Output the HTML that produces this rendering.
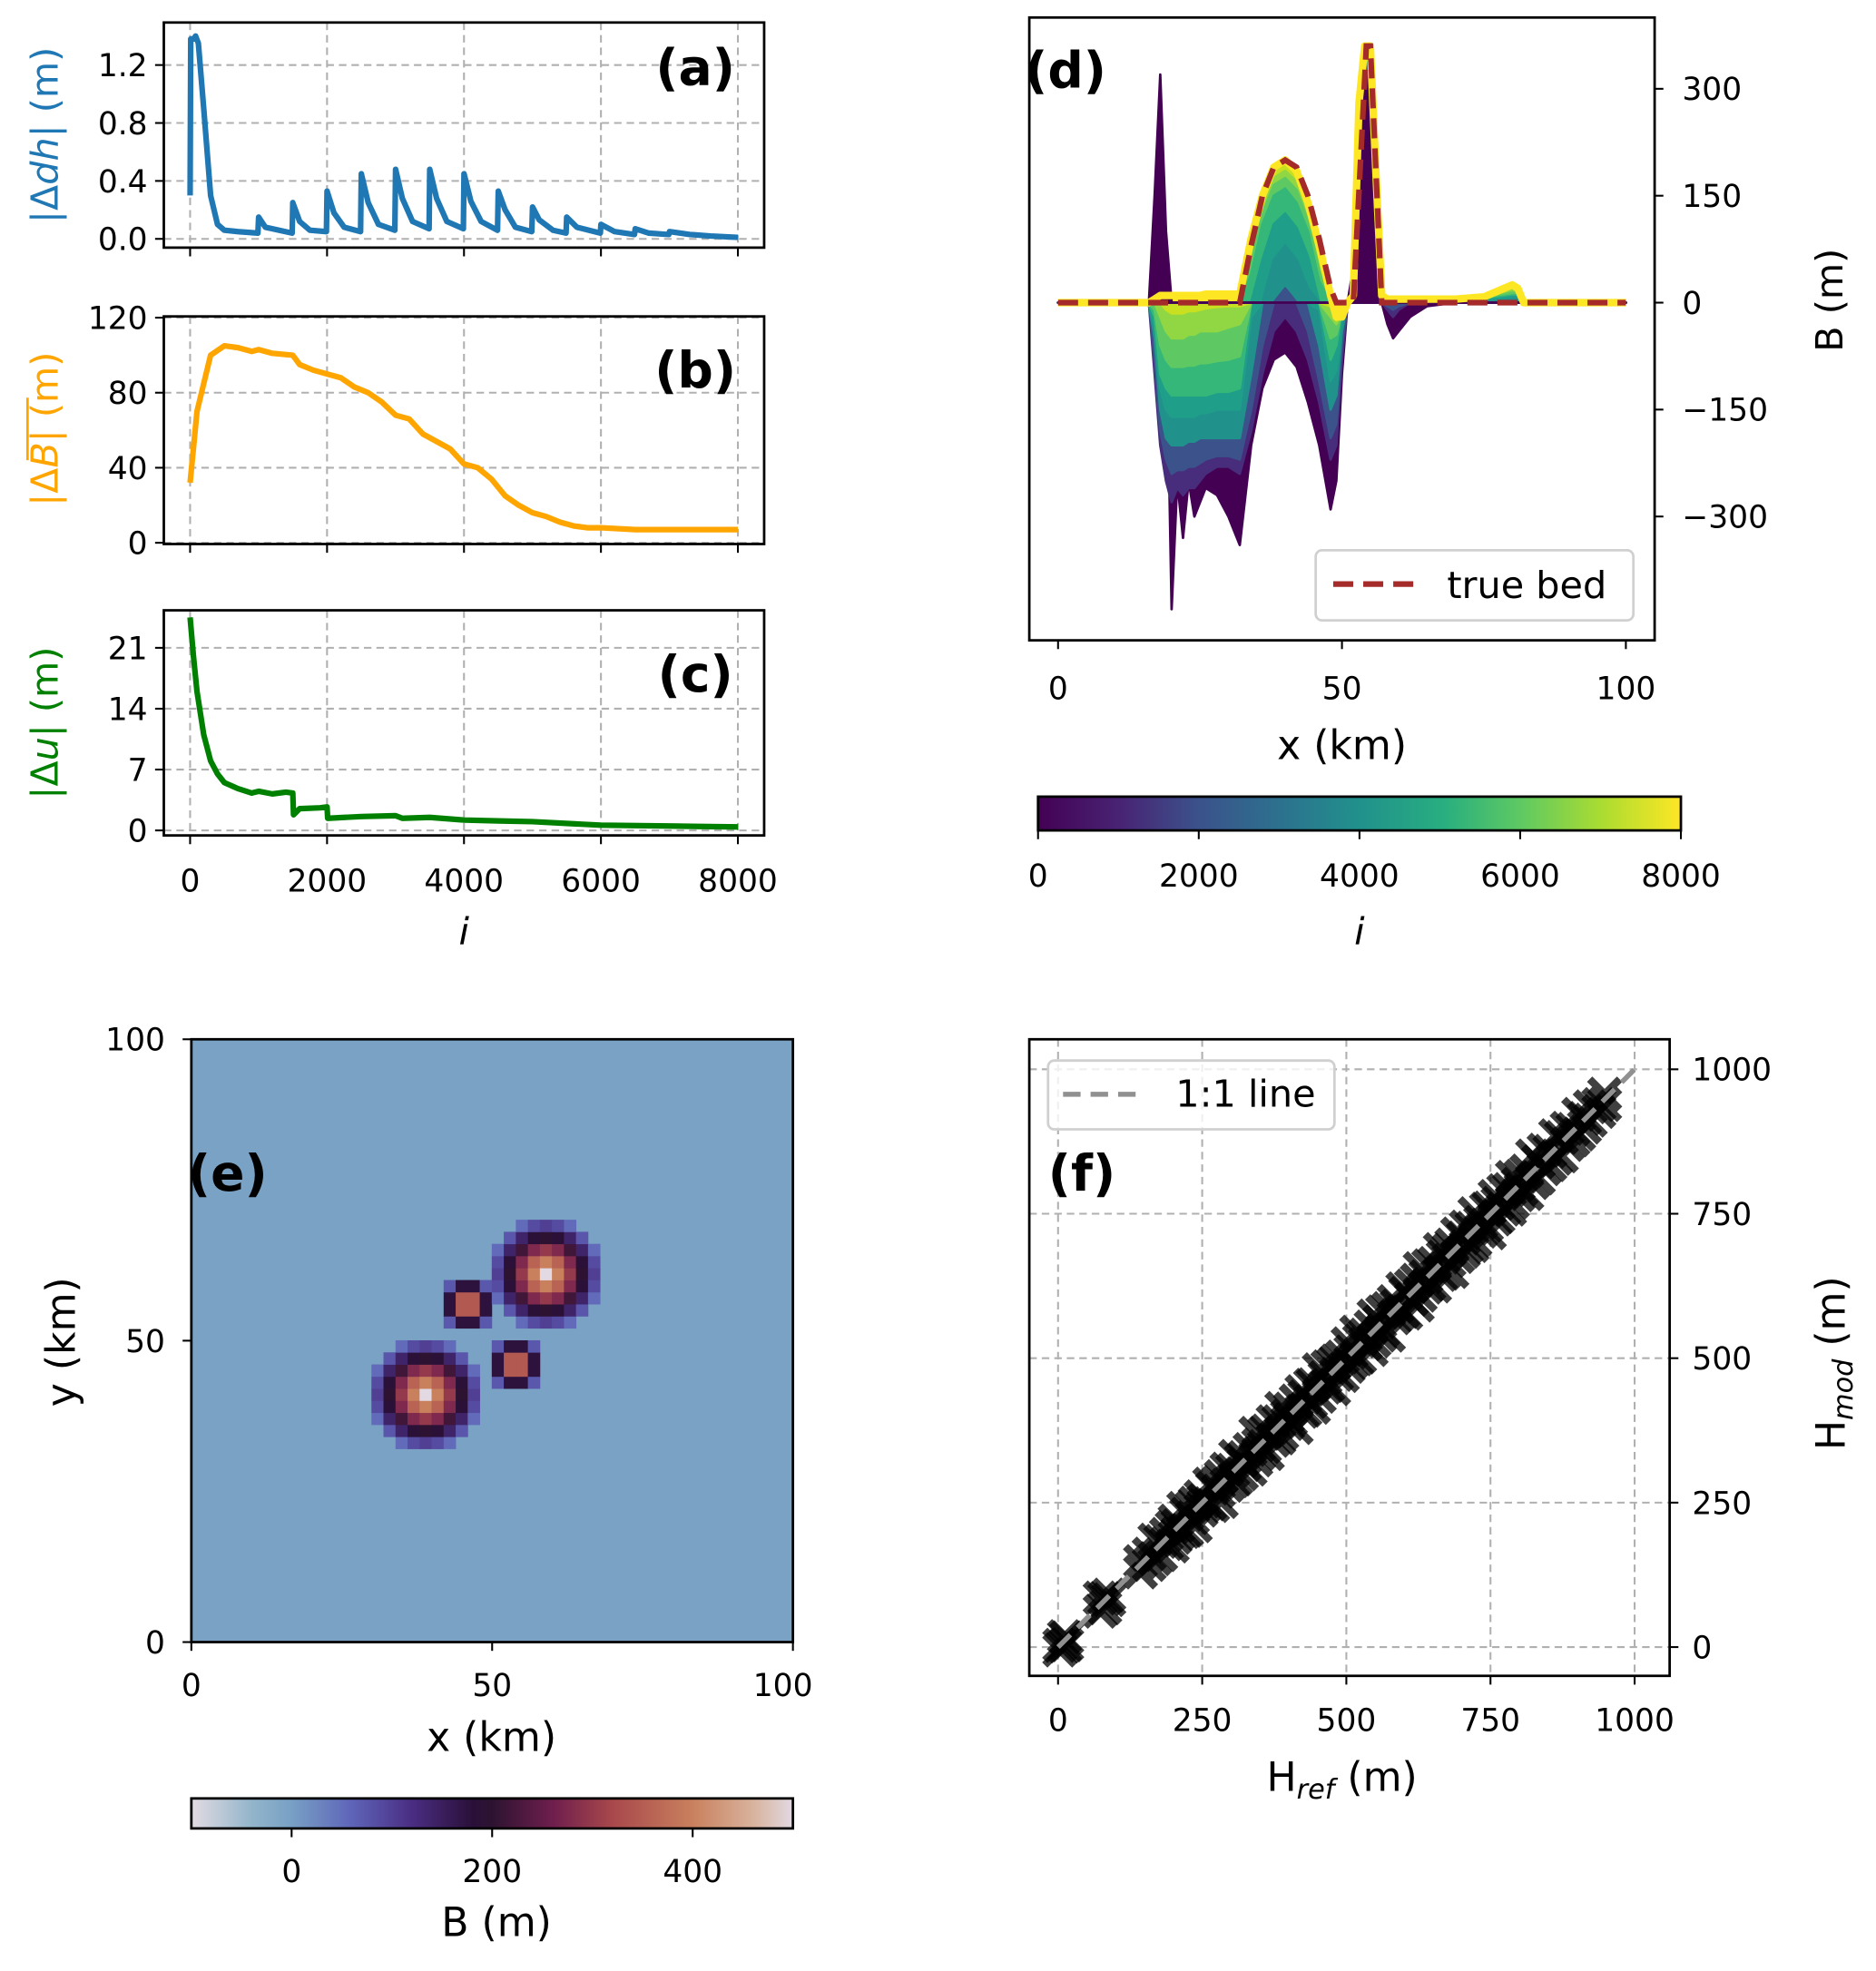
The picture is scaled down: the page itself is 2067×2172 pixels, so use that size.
<!DOCTYPE html>
<html><head><meta charset="utf-8"><style>
html,body{margin:0;padding:0;background:#fff;}
svg{display:block;font-family:"DejaVu Sans","Liberation Sans",sans-serif;}
</style></head><body>
<svg id="fig" width="2067" height="2172" viewBox="0 0 1500 1576" preserveAspectRatio="none" xmlns="http://www.w3.org/2000/svg">
<defs>
<linearGradient id="viridis" x1="0" x2="1" y1="0" y2="0">
<stop offset="0" stop-color="#440154"/><stop offset="0.13" stop-color="#482475"/><stop offset="0.25" stop-color="#3b528b"/><stop offset="0.38" stop-color="#2c728e"/><stop offset="0.5" stop-color="#21918c"/><stop offset="0.63" stop-color="#28ae80"/><stop offset="0.75" stop-color="#5ec962"/><stop offset="0.88" stop-color="#addc30"/><stop offset="1" stop-color="#fde725"/>
</linearGradient>
<linearGradient id="twil" x1="0" x2="1" y1="0" y2="0">
<stop offset="0" stop-color="#e2dbe2"/><stop offset="0.1" stop-color="#93b5cb"/><stop offset="0.167" stop-color="#78a0c5"/><stop offset="0.267" stop-color="#5e64b9"/><stop offset="0.367" stop-color="#4a2d82"/><stop offset="0.467" stop-color="#2a1039"/><stop offset="0.5" stop-color="#2d1331"/><stop offset="0.6" stop-color="#6e1e4d"/><stop offset="0.7" stop-color="#a8484c"/><stop offset="0.833" stop-color="#c9805d"/><stop offset="0.933" stop-color="#d8b29c"/><stop offset="1" stop-color="#e2d9e2"/>
</linearGradient>
</defs>
</svg>
<script>
// ---------- data ----------
const dhIter=[0,10,50,80,120,200,300,400,500,700,990,1000,1100,1490,1500,1600,1750,1990,2000,2100,2250,2490,2500,2600,2750,2990,3000,3100,3250,3490,3500,3600,3750,3990,4000,4100,4250,4490,4500,4600,4750,4990,5000,5100,5300,5490,5500,5650,5990,6000,6200,6490,6500,6700,6990,7000,7300,7600,8000];
const dhVal=[0.3,1.38,1.38,1.4,1.35,0.9,0.3,0.1,0.06,0.05,0.04,0.15,0.08,0.04,0.25,0.12,0.06,0.05,0.33,0.18,0.08,0.05,0.45,0.25,0.1,0.06,0.48,0.28,0.12,0.07,0.48,0.28,0.12,0.07,0.45,0.26,0.12,0.06,0.33,0.2,0.08,0.05,0.22,0.13,0.06,0.04,0.15,0.08,0.04,0.1,0.05,0.03,0.07,0.04,0.03,0.05,0.03,0.02,0.01];
const bIter=[0,100,300,500,700,900,1000,1200,1500,1600,1800,2000,2200,2400,2600,2800,3000,3200,3400,3600,3800,4000,4200,4400,4600,4800,5000,5200,5400,5600,5800,6000,6500,7000,8000];
const bVal=[32,70,100,105,104,102,103,101,100,95,92,90,88,83,80,75,68,66,58,54,50,42,40,34,25,20,16,14,11,9,8,8,7,7,7];
const uIter=[0,50,100,200,300,400,500,700,900,1000,1200,1400,1500,1510,1600,1900,2000,2010,2500,3000,3100,3500,4000,4500,5000,6000,7000,8000];
const uVal=[24.5,20,16,11,8,6.5,5.5,4.8,4.3,4.5,4.2,4.4,4.3,1.8,2.5,2.6,2.7,1.4,1.6,1.7,1.4,1.5,1.2,1.1,1.0,0.6,0.5,0.4];
const xTicksIter=[0,2000,4000,6000,8000];
const dX=[0,15,16,17,18,19,20,21,22,23,24,25,26,28,30,32,34,36,38,40,42,44,46,48,49,50,51,52,53,54,55,56,57,58,59,60,62,65,70,75,80,81,82,85,100];
const bedIters=[0,500,1000,2000,3000,4000,5000,6000,7000,8000];
const bed0=[0,0,0,150,320,100,-430,-250,-330,-250,-300,-280,-260,-270,-300,-340,-200,-120,-80,-70,-90,-140,-200,-290,-250,-100,0,50,150,300,330,150,0,-30,-50,-40,-20,-5,0,0,0,0,0,0,0];
const bed500=[0,0,0,-100,-200,-250,-280,-260,-270,-260,-260,-250,-240,-230,-230,-240,-180,-100,-40,-20,-40,-80,-140,-220,-200,-80,0,30,150,300,330,150,0,-10,-20,-10,0,0,0,0,0,0,0,0,0];
const bed1000=[0,0,0,-80,-180,-220,-240,-235,-235,-230,-230,-225,-220,-215,-215,-220,-150,-60,0,20,0,-40,-110,-190,-170,-60,0,25,170,320,340,150,0,-5,-10,-5,0,0,0,0,0,0,0,0,0];
const bed2000=[0,0,0,-50,-150,-190,-200,-200,-200,-195,-195,-190,-190,-190,-190,-190,-100,0,60,80,60,20,-60,-150,-130,-40,0,20,200,340,350,150,0,0,0,0,0,0,0,0,5,5,0,0,0];
const bed3000=[0,0,0,-35,-120,-150,-160,-160,-160,-160,-160,-155,-155,-150,-150,-150,-20,60,110,125,105,65,-10,-110,-95,-25,0,15,225,345,352,150,0,0,0,0,0,0,0,3,8,8,0,0,0];
const bed4000=[0,0,0,-20,-100,-120,-130,-130,-130,-130,-130,-130,-130,-125,-125,-120,40,110,150,160,140,100,30,-80,-60,-10,0,10,250,350,355,150,0,0,0,0,0,0,0,5,10,10,0,0,0];
const bed5000=[0,0,0,-10,-60,-80,-90,-90,-90,-88,-88,-85,-85,-82,-80,-75,55,125,165,175,158,115,45,-50,-45,-12,0,10,260,352,356,160,3,2,2,2,2,2,2,4,14,12,0,0,0];
const bed6000=[0,0,0,0,-20,-40,-50,-50,-50,-45,-45,-40,-40,-40,-35,-30,70,135,175,185,170,125,60,-20,-30,-15,0,10,270,355,358,170,5,3,3,3,3,3,3,3,18,15,0,0,0];
const bed7000=[0,0,0,3,0,-10,-15,-15,-15,-12,-12,-10,-8,-6,-5,-5,80,145,183,193,178,133,70,-5,-25,-18,0,10,275,358,359,175,8,4,4,4,4,4,4,6,22,18,0,0,0];
const bed8000=[0,0,0,5,10,10,10,10,10,10,10,10,12,12,12,12,90,150,190,200,185,140,80,10,-20,-20,0,10,280,360,360,180,10,5,5,5,5,5,5,8,25,20,0,0,0];
const trueX=[0,32,34,36,38,40,42,44,46,48,49,52,54.3,55,57,100];
const trueB=[0,0,80,150,190,200,190,150,90,20,0,0,360,360,0,0];
const bTicks=[300,150,0,-150,-300];
const xkmTicks=[0,50,100];
const cbITicks=[0,2000,4000,6000,8000];
// (e) bumps
const bumpX=[39,59,46,54];
const bumpY=[41,61,56,46];
const bumpH=[500,500,480,480];
const bumpR=[10,10,5,5];
const cbBTicks=[0,200,400];
// (f)
const href=[0,8,12,70,78,85,140,155,165,175,185,195,200,205,215,220,230,235,245,250,260,265,275,280,290,300,305,315,320,330,340,345,355,360,370,380,385,395,400,410,420,425,435,440,450,460,465,475,480,490,500,505,515,520,530,540,545,555,560,570,580,585,595,600,610,620,625,635,640,650,660,665,675,680,690,700,705,715,720,730,740,745,755,760,770,780,785,795,800,810,820,830,840,850,860,870,880,890,900,910,920,935,945];
const hdev=[-5,10,-8,15,-10,5,8,-12,20,-15,10,-20,18,-8,25,-18,12,-25,15,-5,22,-20,10,-28,18,-12,25,-15,8,-22,30,-10,15,-25,20,-18,28,-8,12,-30,22,-15,18,-25,30,-10,20,-28,15,-20,25,-12,30,-18,10,-25,28,-15,20,-30,18,-10,25,-22,15,-28,30,-12,20,-25,28,-18,12,-30,25,-15,22,-20,30,-10,18,-28,25,-15,20,-22,28,-12,15,-25,30,-18,20,-15,25,-20,18,-12,22,-10,15,-8,12];
const hdev2=[3,-6,4,-8,6,-3,-10,6,-12,8,-6,12,-10,5,-15,10,-6,14,-8,3,-12,10,-5,15,-10,6,-14,8,-4,12,-16,5,-8,14,-12,10,-15,4,-6,16,-12,8,-10,14,-16,6,-12,15,-8,12,-14,6,-16,10,-5,14,-15,8,-12,16,-10,5,-14,12,-8,15,-16,6,-12,14,-15,10,-6,16,-14,8,-12,10,-16,5,-10,15,-14,8,-12,12,-15,6,-8,14,-16,10,-12,8,-14,12,-10,6,-12,5,-8,4,-6];
const hTicks=[0,250,500,750,1000];

// ---------- helpers ----------
const NS="http://www.w3.org/2000/svg";
const svg=document.getElementById('fig');
function mk(tag,attrs,parent){const e=document.createElementNS(NS,tag);for(const k in attrs)e.setAttribute(k,attrs[k]);(parent||svg).appendChild(e);return e;}
function txt(s,x,y,size,anchor,parent,fill){const t=mk('text',{x:x,y:y,'font-size':size,'text-anchor':anchor||'middle',fill:fill||'#000'},parent);t.textContent=s;return t;}
function lin(d0,d1,p0,p1){return v=>p0+(v-d0)/(d1-d0)*(p1-p0);}
function frame(x0,y0,x1,y1,name){const r=mk('rect',{x:x0,y:y0,width:x1-x0,height:y1-y0,fill:'none',stroke:'#000','stroke-width':2});

return r;}

// ---------- a/b/c ----------
const ix=lin(0,8000,152,590);
function linePanel(name,y0,y1,ys,iters,vals,color,yt,ytl,letter,lx,ly){
  const g=mk('g',{});
  
  
  xTicksIter.forEach(t=>{mk('line',{x1:ix(t),x2:ix(t),y1:y0,y2:y1,stroke:'#b0b0b0','stroke-width':1.5,'stroke-dasharray':'6,4'},g);
    mk('line',{x1:ix(t),x2:ix(t),y1:y1,y2:y1+7,stroke:'#000','stroke-width':1.5},g);});
  yt.forEach((t,k)=>{const y=ys(t);mk('line',{x1:131,x2:611,y1:y,y2:y,stroke:'#b0b0b0','stroke-width':1.5,'stroke-dasharray':'6,4'},g);
    mk('line',{x1:124,x2:131,y1:y,y2:y,stroke:'#000','stroke-width':1.5},g);
    const l=txt(ytl[k],118,y+9,25,'end',g);
    
    });
  let d='';iters.forEach((it,k)=>{d+=(k?'L':'M')+ix(it).toFixed(1)+','+ys(vals[k]).toFixed(1);});
  const p=mk('path',{d:d,fill:'none',stroke:color,'stroke-width':4.5,'stroke-linejoin':'round'},g);
  
  
  frame(131,y0,611,y1,'axes-frame');
  const L=txt(letter,lx,ly,40,'middle',g);L.setAttribute('font-weight','bold');
  
  
  return g;
}
linePanel('panel-a',18,198,lin(0,1.2,191,52),dhIter,dhVal,'#1f77b4',[0,0.4,0.8,1.2],['0.0','0.4','0.8','1.2'],'(a)',556,68);
linePanel('panel-b',253,435,lin(0,120,434,254),bIter,bVal,'#ffa500',[0,40,80,120],['0','40','80','120'],'(b)',556,310);
linePanel('panel-c',488,668,lin(0,21,664,518),uIter,uVal,'#008000',[0,7,14,21],['0','7','14','21'],'(c)',556,553);
xTicksIter.forEach(t=>{const l=txt(String(t),ix(t),713,25,'middle');
  
  });
{const l=txt('i',371,755,30,'middle');l.setAttribute('font-style','italic');

}
function rotLabel(parts,x,y,color,name){const t=mk('text',{x:0,y:0,'font-size':30,'text-anchor':'middle',fill:color,transform:`translate(${x},${y}) rotate(-90)`});


parts.forEach(p=>{const s=mk('tspan',{},t);s.textContent=p[0];if(p[1])s.setAttribute('font-style','italic');});return t;}
rotLabel([['|Δ'],['dh',1],['| (m)']],46,108,'#1f77b4','y-axis-title-a');
rotLabel([['|Δ'],['B',1],['| (m)']],46,343,'#ffa500','y-axis-title-b');
mk('line',{x1:22,x2:22,y1:318,y2:368,stroke:'#ffa500','stroke-width':2});
rotLabel([['|Δ'],['u',1],['| (m)']],46,578,'#008000','y-axis-title-c');

// ---------- d ----------
const dx=lin(0,100,846,1300), dy=lin(0,300,242,71);
const vir=['#440154','#472d7b','#3b528b','#21918c','#1f9e89','#35b779','#5ec962','#90d743','#c8e020','#fde725'];
const beds=[bed0,bed500,bed1000,bed2000,bed3000,bed4000,bed5000,bed6000,bed7000,bed8000];
const gd=mk('g',{});


function bedPath(b,sign){let d='M'+dx(dX[0])+','+dy(0);dX.forEach((x,j)=>{const v=sign>0?Math.max(b[j],0):Math.min(b[j],0);d+='L'+dx(x).toFixed(1)+','+dy(v).toFixed(1);});return d+'L'+dx(dX[dX.length-1])+','+dy(0)+'Z';}
// negative parts: early to late
beds.forEach((b,k)=>{const p=mk('path',{d:bedPath(b,-1),fill:vir[k],stroke:vir[k],'stroke-width':2,'stroke-linejoin':'round'},gd);
  
  });
// positive parts: late to early
for(let k=beds.length-1;k>=0;k--){const p=mk('path',{d:bedPath(beds[k],1),fill:vir[k],stroke:vir[k],'stroke-width':2,'stroke-linejoin':'round'},gd);
  
  }
{let d='';dX.forEach((x,j)=>{d+=(j?'L':'M')+dx(x).toFixed(1)+','+dy(bed8000[j]).toFixed(1);});
const p=mk('path',{d:d,fill:'none',stroke:'#fde725','stroke-width':6,'stroke-linejoin':'round'},gd);

}
{let d='';trueX.forEach((x,j)=>{d+=(j?'L':'M')+dx(x).toFixed(1)+','+dy(trueB[j]).toFixed(1);});
const p=mk('path',{d:d,fill:'none',stroke:'#a52a2a','stroke-width':4.5,'stroke-dasharray':'16,8'},gd);

}
frame(823,14,1323,512,'axes-frame-d');
xkmTicks.forEach(t=>{mk('line',{x1:dx(t),x2:dx(t),y1:512,y2:519,stroke:'#000','stroke-width':1.5});
  const l=txt(String(t),dx(t),559,25,'middle');
  });
bTicks.forEach(t=>{mk('line',{x1:1323,x2:1330,y1:dy(t),y2:dy(t),stroke:'#000','stroke-width':1.5});
  const l=txt(t<0?'−'+(-t):String(t),1345,dy(t)+9,25,'start');
  });
{const l=txt('x (km)',1073,607,32,'middle');
}
{const t=mk('text',{x:0,y:0,'font-size':30,'text-anchor':'middle',transform:'translate(1473,240) rotate(-90)'});t.textContent='B (m)';

}
{const L=txt('(d)',852,70,40,'middle');L.setAttribute('font-weight','bold');

}
{const g=mk('g',{});


mk('rect',{x:1052,y:440,width:254,height:56,rx:5,fill:'#fff',stroke:'#d0d0d0','stroke-width':2,'fill-opacity':0.8},g);
mk('line',{x1:1066,x2:1132,y1:467,y2:467,stroke:'#a52a2a','stroke-width':4.5,'stroke-dasharray':'16,8'},g);
txt('true bed',1157,478,30,'start',g);}
{const r=mk('rect',{x:830,y:637,width:514,height:27,fill:'url(#viridis)',stroke:'#000','stroke-width':2});


const cx=lin(0,8000,830,1344);
cbITicks.forEach(t=>{mk('line',{x1:cx(t),x2:cx(t),y1:664,y2:671,stroke:'#000','stroke-width':1.5});
const l=txt(String(t),cx(t),709,25,'middle');
});
const l=txt('i',1087,755,30,'middle');l.setAttribute('font-style','italic');

}

// ---------- e ----------
const tw=[[-100,[226,219,226]],[-40,[147,181,203]],[0,[122,162,196]],[60,[94,100,185]],[120,[74,45,130]],[180,[42,16,57]],[200,[45,19,49]],[260,[110,30,77]],[320,[168,72,76]],[400,[201,128,93]],[460,[216,178,156]],[500,[226,217,226]]];
function twc(v){v=Math.max(-100,Math.min(500,v));for(let k=0;k<tw.length-1;k++){if(v<=tw[k+1][0]){const f=(v-tw[k][0])/(tw[k+1][0]-tw[k][0]);const a=tw[k][1],b=tw[k+1][1];return 'rgb('+a.map((c,i)=>Math.round(c+f*(b[i]-c))).join(',')+')';}}return 'rgb(226,217,226)';}
const ex=lin(0,100,153,634), ey=lin(0,100,1313,831);
const ge=mk('g',{});


mk('rect',{x:153,y:831,width:481,height:482,fill:twc(0)},ge);
for(let i=0;i<50;i++)for(let j=0;j<50;j++){const cxk=i*2+1,cyk=j*2+1;let v=0;
  bumpX.forEach((bx,k)=>{const r=Math.hypot(cxk-bx,cyk-bumpY[k]);if(r<bumpR[k])v+=bumpH[k]*(1-r/bumpR[k]);});
  if(v>5){const c=mk('rect',{x:ex(i*2)-0.3,y:ey(j*2+2)-0.3,width:9.9,height:9.9,fill:twc(v)},ge);
  
  }}
frame(153,831,634,1313,'axes-frame-e');
xkmTicks.forEach(t=>{mk('line',{x1:ex(t),x2:ex(t),y1:1313,y2:1320,stroke:'#000','stroke-width':1.5});
  const l=txt(String(t),t==100?626:ex(t),1356,25,'middle');
  
  mk('line',{x1:146,x2:153,y1:ey(t),y2:ey(t),stroke:'#000','stroke-width':1.5});
  const m=txt(String(t),132,ey(t)+9,25,'end');
  });
{const l=txt('x (km)',393,1400,32,'middle');

const t=mk('text',{x:0,y:0,'font-size':32,'text-anchor':'middle',transform:'translate(60,1073) rotate(-90)'});t.textContent='y (km)';


const L=txt('(e)',182,952,40,'middle');L.setAttribute('font-weight','bold');

}
{const r=mk('rect',{x:153,y:1438,width:481,height:24,fill:'url(#twil)',stroke:'#000','stroke-width':2});


const cx=lin(-100,500,153,634);
cbBTicks.forEach(t=>{mk('line',{x1:cx(t),x2:cx(t),y1:1462,y2:1469,stroke:'#000','stroke-width':1.5});
const l=txt(String(t),cx(t),1505,25,'middle');
});
const l=txt('B (m)',397,1548,32,'middle');
}

// ---------- f ----------
const fx=lin(0,1000,846,1307), fy=lin(0,1000,1317,855);
const gf=mk('g',{});


hTicks.forEach(t=>{mk('line',{x1:fx(t),x2:fx(t),y1:831,y2:1340,stroke:'#b0b0b0','stroke-width':1.5,'stroke-dasharray':'6,4'},gf);
  mk('line',{x1:823,x2:1335,y1:fy(t),y2:fy(t),stroke:'#b0b0b0','stroke-width':1.5,'stroke-dasharray':'6,4'},gf);
  mk('line',{x1:fx(t),x2:fx(t),y1:1340,y2:1347,stroke:'#000','stroke-width':1.5},gf);
  mk('line',{x1:1335,x2:1342,y1:fy(t),y2:fy(t),stroke:'#000','stroke-width':1.5},gf);
  const l=txt(String(t),fx(t),1384,25,'middle',gf);
  
  const m=txt(String(t),1353,fy(t)+9,25,'start',gf);
  });
[hdev,hdev2].forEach(dev=>{href.forEach((h,k)=>{const v=h+(dev[k]||0);const x=fx(h+3),y=fy(v),s=12;
  const p=mk('path',{d:`M${x-s},${y-s}L${x+s},${y+s}M${x-s},${y+s}L${x+s},${y-s}`,stroke:'#000','stroke-width':6,'stroke-opacity':0.75},gf);
  
  });});
{const p=mk('line',{x1:fx(0),y1:fy(0),x2:fx(1000),y2:fy(1000),stroke:'#909090','stroke-width':4,'stroke-dasharray':'14,8'},gf);

}
frame(823,831,1335,1340,'axes-frame-f');
{const g=mk('g',{});


mk('rect',{x:838,y:848,width:229,height:55,rx:5,fill:'#fff','fill-opacity':0.8,stroke:'#d0d0d0','stroke-width':2},g);
mk('line',{x1:850,x2:916,y1:875,y2:875,stroke:'#909090','stroke-width':4,'stroke-dasharray':'14,8'},g);
txt('1:1 line',940,885,30,'start',g);}
{const L=txt('(f)',865,952,40,'middle');L.setAttribute('font-weight','bold');


const t=mk('text',{x:1073,y:1432,'font-size':32,'text-anchor':'middle'});


t.innerHTML='H<tspan font-size="22" dy="6" font-style="italic">ref</tspan><tspan dy="-6"> (m)</tspan>';
const t2=mk('text',{x:0,y:0,'font-size':32,'text-anchor':'middle',transform:'translate(1475,1090) rotate(-90)'});


t2.innerHTML='H<tspan font-size="22" dy="6" font-style="italic">mod</tspan><tspan dy="-6"> (m)</tspan>';}
</script>
</body></html>
